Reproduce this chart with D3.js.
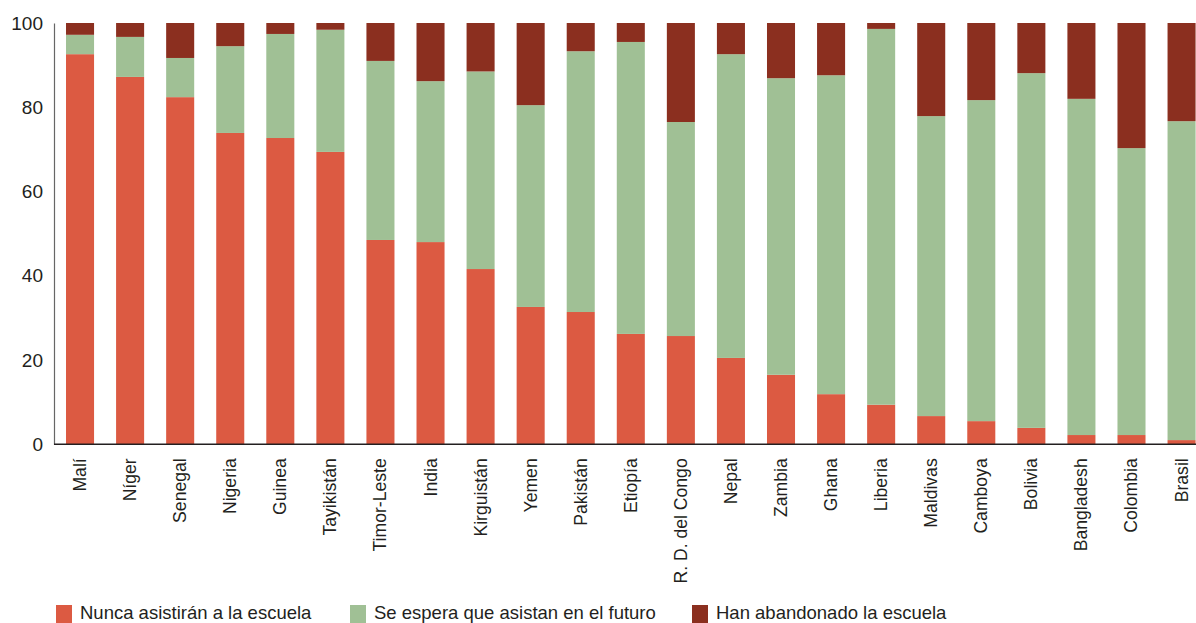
<!DOCTYPE html>
<html><head><meta charset="utf-8">
<script src="https://cdn.jsdelivr.net/npm/d3@7"></script>
<style>body{margin:0;background:#fff}svg{display:block}text{font-family:"Liberation Sans",Arial,sans-serif;fill:#231f20}</style>
</head><body><svg id="c" width="1196" height="623"></svg>
<script>
const countries = ["Malí","Níger","Senegal","Nigeria","Guinea","Tayikistán","Timor-Leste","India","Kirguistán","Yemen","Pakistán","Etiopía","R. D. del Congo","Nepal","Zambia","Ghana","Liberia","Maldivas","Camboya","Bolivia","Bangladesh","Colombia","Brasil"];
const nunca = [92.6,87.2,82.4,73.9,72.7,69.4,48.5,48.0,41.6,32.6,31.4,26.2,25.7,20.5,16.5,11.9,9.4,6.7,5.5,3.9,2.2,2.2,1.0];
const futuro = [4.6,9.5,9.3,20.6,24.7,29.0,42.5,38.2,46.9,47.9,61.9,69.3,50.8,72.1,70.4,75.7,89.2,71.2,76.2,84.2,79.8,68.1,75.7];
const abandono = [2.8,3.3,8.3,5.5,2.6,1.6,9.0,13.8,11.5,19.5,6.7,4.5,23.5,7.4,13.1,12.4,1.4,22.1,18.3,11.9,18.0,29.7,23.3];
const seriesNames = ["Nunca asistirán a la escuela","Se espera que asistan en el futuro","Han abandonado la escuela"];
const seriesKeys = ["nunca","futuro","abandono"];
const colors = ["#dc5a42","#a0c095","#8b2f1f"];
const yTicks = [0,20,40,60,80,100];

const rows = countries.map((c,i)=>({country:c,nunca:nunca[i],futuro:futuro[i],abandono:abandono[i]}));
const svg = d3.select("#c");
const x = d3.scaleBand().domain(countries).range([54,1207.6]).paddingInner(0.44).paddingOuter(0.24);
const y = d3.scaleLinear().domain([0,100]).range([444.3,23]);
const stack = d3.stack().keys(seriesKeys)(rows);

svg.append("g").selectAll("g").data(stack).join("g")
  .attr("fill",(d,i)=>colors[i])
  .selectAll("rect").data(d=>d).join("rect")
  .attr("x",d=>x(d.data.country)).attr("width",x.bandwidth())
  .attr("y",d=>y(d[1])).attr("height",d=>y(d[0])-y(d[1]));

// y axis
const ya = svg.append("g").attr("transform","translate(54,0)")
  .call(d3.axisLeft(y).tickValues(yTicks).tickSize(0).tickPadding(11));
ya.select(".domain").attr("stroke","#666").attr("stroke-width",1.2);
ya.selectAll("text").style("font-size","19px").attr("fill","#231f20");

// x axis
const xa = svg.append("g").attr("transform","translate(0,444.3)")
  .call(d3.axisBottom(x).tickSize(0).tickPadding(0));
xa.select(".domain").attr("d","M54,0H1196").attr("stroke","#231f20").attr("stroke-width",1.5);
xa.selectAll("text").style("font-size","17.6px").attr("fill","#231f20")
  .attr("text-anchor","end").attr("dy",null)
  .attr("transform","translate(6,14) rotate(-90)");

// legend
const legX = [56,350,692];
const lg = svg.append("g");
seriesNames.forEach((n,i)=>{
  lg.append("rect").attr("x",legX[i]).attr("y",605).attr("width",16).attr("height",18).attr("fill",colors[i]);
  lg.append("text").attr("x",legX[i]+24).attr("y",619).style("font-size","18.5px").text(n);
});
</script></body></html>
